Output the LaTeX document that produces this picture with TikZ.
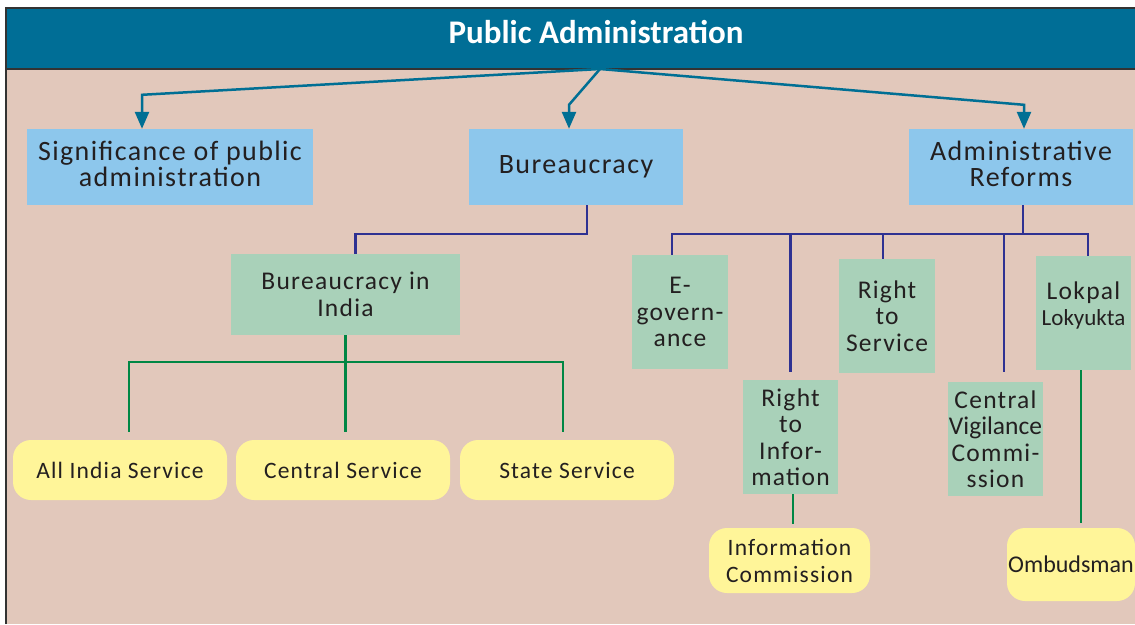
\documentclass[tikz,border=0pt]{standalone}
\usepackage{fontspec}
\setmainfont{Carlito}[LetterSpace=5]
\newfontfamily\plainfont{Carlito}
\usetikzlibrary{arrows.meta}
\definecolor{hdr}{HTML}{006E96}
\definecolor{bgc}{HTML}{E2C8BB}
\definecolor{bluebox}{HTML}{8DC7EC}
\definecolor{greenbox}{HTML}{A9D1B9}
\definecolor{yellowbox}{HTML}{FFF599}
\definecolor{teal}{HTML}{006F94}
\definecolor{navy}{HTML}{2E3192}
\definecolor{gline}{HTML}{008744}
\definecolor{txt}{HTML}{231F20}
\begin{document}
\begin{tikzpicture}[x=1pt,y=-1pt,
  every node/.style={inner sep=0pt, text=txt, align=center},
  topbox/.style={fill=bluebox, font=\fontsize{28}{26}\selectfont},
  greenrect/.style={fill=greenbox, font=\fontsize{25.5}{26.5}\selectfont},
  pill/.style={fill=yellowbox, rounded corners=18pt, font=\fontsize{23.5}{27}\selectfont},
  arr/.style={teal, line width=2.5pt, -{Triangle[width=14pt,length=17pt]}},
  bl/.style={navy, line width=2.5pt},
  gl/.style={gline, line width=2.5pt}]
\useasboundingbox (0,0) rectangle (1135,624);
\fill[white] (0,0) rectangle (1135,624);
\fill[bgc] (6,8) rectangle (1135,624);
\fill[hdr] (6,8) rectangle (1135,69);
\draw[line width=2pt, black!80] (6,624) -- (6,8) -- (1135,8);
\draw[line width=2pt, black!80] (6,69) -- (1135,69);
\node[text=white, font=\plainfont\bfseries\fontsize{33}{34}\selectfont] (title) at (596,32) {Public Administration};
\coordinate (hub) at (600,69);

% top row
\node[topbox, minimum width=286pt, minimum height=76pt] (sig) at (170,167) {Significance of public\\administration\\[-20pt]\mbox{}};
\node[topbox, minimum width=214pt, minimum height=76pt] (bur) at (576,167) {Bureaucracy};
\node[topbox, minimum width=224pt, minimum height=76pt] (adm) at (1021,167) {Administrative\\Reforms\\[-20pt]\mbox{}};

% second level
\node[greenrect, minimum width=229pt, minimum height=81pt] (bin) at (345.5,294.5) {Bureaucracy in\\India};
\node[greenrect, minimum width=96pt, minimum height=114pt] (egov) at (680,312) {E-\\govern-\\ance};
\node[greenrect, minimum width=95pt, minimum height=114pt] (rti) at (790.5,437) {Right\\to\\Infor-\\mation};
\node[greenrect, minimum width=96pt, minimum height=114pt] (rts) at (887,316) {Right\\to\\Service};
\node[greenrect, minimum width=95pt, minimum height=114pt] (cvc) at (995.5,439) {Central\\{\plainfont Vigilance}\\Commi-\\ssion};
\node[greenrect, minimum width=95pt, minimum height=114pt] (lok) at (1083.5,313) {Lokpal\\{\plainfont\fontsize{23}{26}\selectfont Lokyukta}\\[-8pt]\mbox{}};

% leaves
\node[pill, minimum width=214pt, minimum height=60pt] (ais) at (120,470) {All India Service};
\node[pill, minimum width=214pt, minimum height=60pt] (cs) at (343,470) {Central Service};
\node[pill, minimum width=214pt, minimum height=60pt] (ss) at (567,470) {State Service};
\node[pill, minimum width=161pt, minimum height=65pt] (ic) at (789.5,560.5) {Information\\Commission};
\node[pill, minimum width=128pt, minimum height=73pt, font=\plainfont\fontsize{24}{26}\selectfont] (omb) at (1071,564.5) {Ombudsman};

% arrows from title
\draw[arr] (hub) -- ([xshift=-28pt,yshift=34pt]sig.north) -- ([xshift=-28pt]sig.north);
\draw[arr] (hub) -- ([xshift=-7pt,yshift=24pt]bur.north) -- ([xshift=-7pt]bur.north);
\draw[arr] (hub) -- ([xshift=3pt,yshift=24pt]adm.north) -- ([xshift=3pt]adm.north);

% bureaucracy branch
\draw[bl] ([xshift=11pt]bur.south) -- ++(0,29) -| ([xshift=10pt]bin.north);

% reforms branch
\coordinate (rb) at ([xshift=2pt,yshift=-29pt]adm.south);
\draw[bl] ([xshift=2pt]adm.south) -- (rb);
\draw[bl] ([xshift=-8pt]egov.north) |- ([xshift=4.5pt]lok.north |- rb) -- ([xshift=4.5pt]lok.north);
\draw[bl] (rb -| rti.north) -- ([yshift=8pt]rti.north);
\draw[bl] ([xshift=-4pt]rb -| rts.north) -- ([xshift=-4pt]rts.north);
\draw[bl] ([xshift=8.5pt]rb -| cvc.north) -- ([xshift=8.5pt,yshift=10pt]cvc.north);

% india branch
\coordinate (gb) at ([yshift=-27pt]bin.south);
\draw[gl] (bin.south) -- ([yshift=8pt]bin.south |- cs.north);
\draw[gl] ([xshift=9pt,yshift=8pt]ais.north) |- ([xshift=-4pt]ss.north |- gb) -- ([xshift=-4pt,yshift=8pt]ss.north);

% leaves of reforms
\draw[gl] ([xshift=2.5pt]rti.south) -- ([xshift=3.5pt,yshift=4pt]ic.north);
\draw[gl] ([xshift=-2.5pt]lok.south) -- ([xshift=10pt,yshift=5pt]omb.north);
\end{tikzpicture}
\end{document}
